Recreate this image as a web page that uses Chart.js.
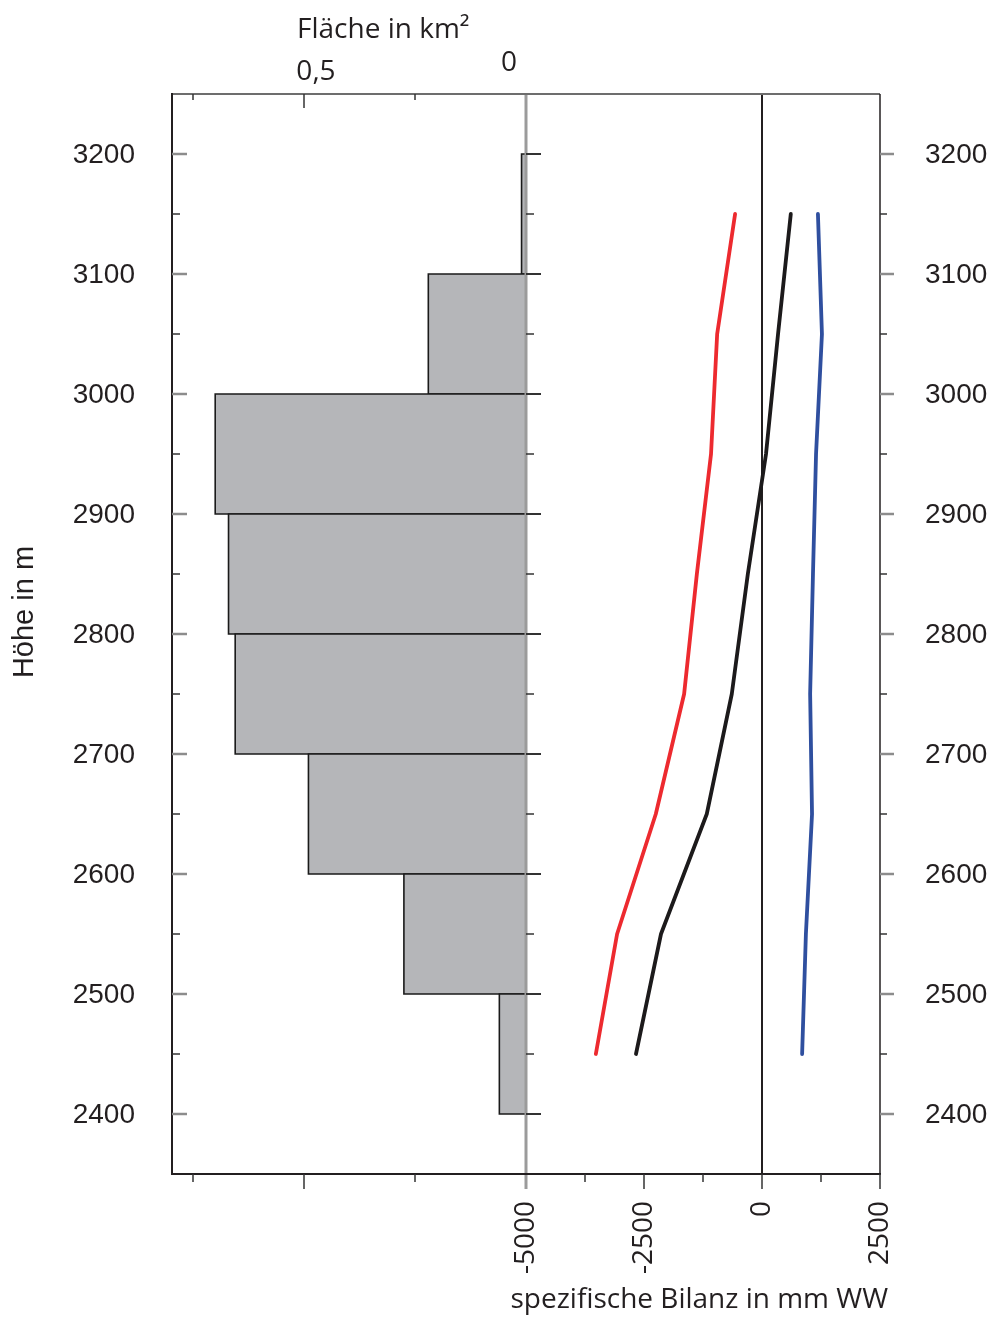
<!DOCTYPE html>
<html>
<head>
<meta charset="utf-8">
<script src="https://cdn.jsdelivr.net/npm/chart.js@4/dist/chart.umd.min.js"></script>
<style>
  html, body { margin: 0; padding: 0; background: #fff; }
  canvas { display: block; }
</style>
</head>
<body>
<canvas id="myChart" width="994" height="1317"></canvas>
<script>
/* Daten */
// Mitte der 100-m-Höhenstufen
const heights = [2450, 2550, 2650, 2750, 2850, 2950, 3050, 3150];
// Fläche je Höhenstufe (km²)
const area = [0.06, 0.275, 0.49, 0.655, 0.67, 0.70, 0.22, 0.01];
// spezifische Bilanz (mm WW)
const balanceRed = [-3520, -3070, -2250, -1650, -1380, -1080, -950, -570];
const balanceBlack = [-2670, -2140, -1170, -640, -300, 85, 340, 610];
const balanceBlue = [850, 930, 1060, 1020, 1080, 1145, 1270, 1185];

const heightTicks = [2400, 2500, 2600, 2700, 2800, 2900, 3000, 3100, 3200];
const balanceTicks = [-5000, -2500, 0, 2500];
const balanceLabels = ['-5000', '-2500', '0', '2500'];
const balanceMinor = [-3750, -1250, 1250];
const areaTicks = [0.5, 0];
const areaLabels = ['0,5', '0'];
const areaMinor = [0.25, 0.75];

const bandHalf = 50;
const myriad = '"Open Sans", "Noto Sans", sans-serif';
const helv = '"Liberation Sans", Arial, sans-serif';

/* Histogramm: ein Rechteck je Höhenstufe */
const barSets = heights.map((h, i) => ({
  data: [
    {x: 0, y: h - bandHalf}, {x: area[i], y: h - bandHalf},
    {x: area[i], y: h + bandHalf}, {x: 0, y: h + bandHalf}, {x: 0, y: h - bandHalf}
  ],
  xAxisID: 'xa',
  yAxisID: 'y',
  showLine: true,
  fill: 'shape',
  backgroundColor: '#b5b6b9',
  borderColor: '#1a1a1a',
  borderWidth: 1.6,
  pointRadius: 0,
  order: 10
}));

function lineSet(values, color) {
  return {
    data: heights.map((h, i) => ({x: values[i], y: h})),
    xAxisID: 'x',
    yAxisID: 'y',
    showLine: true,
    fill: false,
    borderColor: color,
    borderWidth: 3.8,
    borderCapStyle: 'round',
    borderJoinStyle: 'round',
    pointRadius: 0,
    order: 1
  };
}

/* Achsen, Striche und Beschriftungen */
const axisDecor = {
  id: 'axisDecor',
  beforeDatasetsDraw(chart) {
    const {ctx, chartArea: a, scales: {x}} = chart;
    ctx.save();
    ctx.strokeStyle = '#231f20';
    ctx.lineWidth = 2;
    const x0 = x.getPixelForValue(0);
    ctx.beginPath(); ctx.moveTo(x0, a.top); ctx.lineTo(x0, a.bottom); ctx.stroke();
    ctx.restore();
  },
  afterDatasetsDraw(chart) {
    const {ctx, chartArea: a, scales: {x, xa, y}} = chart;
    const line = (x1, y1, x2, y2, color, w) => {
      ctx.strokeStyle = color; ctx.lineWidth = w;
      ctx.beginPath(); ctx.moveTo(x1, y1); ctx.lineTo(x2, y2); ctx.stroke();
    };
    ctx.save();
    const xa0 = xa.getPixelForValue(0);

    // Nulllinie der Fläche (grau)
    line(xa0, a.top, xa0, a.bottom + 15, '#9b9b9b', 3);

    // Rahmen
    line(a.left, a.top, a.right, a.top, '#6d6d6d', 2);
    line(a.left, a.top - 1, a.left, a.bottom + 1, '#231f20', 2);
    line(a.left - 1, a.bottom, a.right + 1, a.bottom, '#231f20', 2);
    line(a.right, a.top, a.right, a.bottom, '#231f20', 1.5);

    // Höhenstriche
    heightTicks.forEach(v => {
      const py = y.getPixelForValue(v);
      line(a.left, py, a.left + 15, py, '#8c8c8c', 2.5);
      line(a.right, py, a.right + 14, py, '#8c8c8c', 2.5);
      line(xa0, py, xa0 + 15, py, '#333', 2);
    });
    heights.forEach(v => {
      const py = y.getPixelForValue(v);
      line(a.left, py, a.left + 8, py, '#333', 1.5);
      line(a.right, py, a.right + 7, py, '#333', 1.5);
      line(xa0, py, xa0 + 8, py, '#333', 1.5);
    });

    // Flächenstriche oben und unten
    areaTicks.filter(v => v !== 0).forEach(v => {
      const px = xa.getPixelForValue(v);
      line(px, a.top, px, a.top + 14, '#333', 1.5);
      line(px, a.bottom, px, a.bottom + 15, '#333', 1.5);
    });
    areaMinor.forEach(v => {
      const px = xa.getPixelForValue(v);
      line(px, a.top, px, a.top + 6, '#333', 1.5);
      line(px, a.bottom, px, a.bottom + 8, '#333', 1.5);
    });

    // Bilanzstriche unten
    balanceTicks.filter(v => v !== -5000).forEach(v => {
      const px = x.getPixelForValue(v);
      line(px, a.bottom, px, a.bottom + 15, '#333', 1.5);
    });
    balanceMinor.forEach(v => {
      const px = x.getPixelForValue(v);
      line(px, a.bottom, px, a.bottom + 8, '#333', 1.5);
    });

    // Höhenbeschriftung links und rechts
    ctx.fillStyle = '#231f20';
    ctx.font = '28px ' + helv;
    ctx.textBaseline = 'middle';
    heightTicks.forEach(v => {
      const py = y.getPixelForValue(v) + 1;
      ctx.textAlign = 'right';
      ctx.fillText(String(v), a.left - 37, py);
      ctx.textAlign = 'left';
      ctx.fillText(String(v), a.right + 45, py);
    });

    // Höhe in m
    ctx.save();
    ctx.translate(25, (a.top + a.bottom) / 2 - 22);
    ctx.rotate(-Math.PI / 2);
    ctx.textAlign = 'center';
    ctx.font = '29px ' + helv;
    ctx.fillText('Höhe in m', 0, 0);
    ctx.restore();

    // Bilanzbeschriftung (gedreht)
    ctx.font = '28px ' + myriad;
    balanceTicks.forEach((v, i) => {
      ctx.save();
      ctx.translate(x.getPixelForValue(v), a.bottom + 27);
      ctx.rotate(-Math.PI / 2);
      ctx.textAlign = 'right';
      ctx.textBaseline = 'middle';
      ctx.fillText(balanceLabels[i], 0, 0);
      ctx.restore();
    });
    ctx.textAlign = 'right';
    ctx.textBaseline = 'alphabetic';
    ctx.fillText('spezifische Bilanz in mm WW', a.right + 8, 1308);

    // Flächenbeschriftung oben
    ctx.textAlign = 'left';
    ctx.fillText('Fläche in km²', 297, 38);
    ctx.textAlign = 'center';
    areaTicks.forEach((v, i) => {
      const px = xa.getPixelForValue(v);
      const dx = v === 0 ? -17 : 12;
      const by = v === 0 ? 71 : 80;
      ctx.fillText(areaLabels[i], px + dx, by);
    });
    ctx.restore();
  }
};

const ctx = document.getElementById('myChart');
const config = {
  type: 'scatter',
  data: {
    datasets: [
      lineSet(balanceRed, '#ed2a2f'),
      lineSet(balanceBlack, '#1c1a1b'),
      lineSet(balanceBlue, '#2f4f9f'),
      ...barSets
    ]
  },
  options: {
    responsive: false,
    animation: false,
    layout: { padding: { left: 172, right: 114, top: 94, bottom: 143 } },
    plugins: { legend: { display: false }, tooltip: { enabled: false } },
    scales: {
      x: { type: 'linear', min: -12500, max: 2500, display: false },
      xa: { type: 'linear', min: -0.7973, max: 0.7973, reverse: true, display: false },
      y: { type: 'linear', min: 2350, max: 3250, display: false }
    }
  },
  plugins: [axisDecor]
};

const myChart = new Chart(ctx, config);
</script>
</body>
</html>
